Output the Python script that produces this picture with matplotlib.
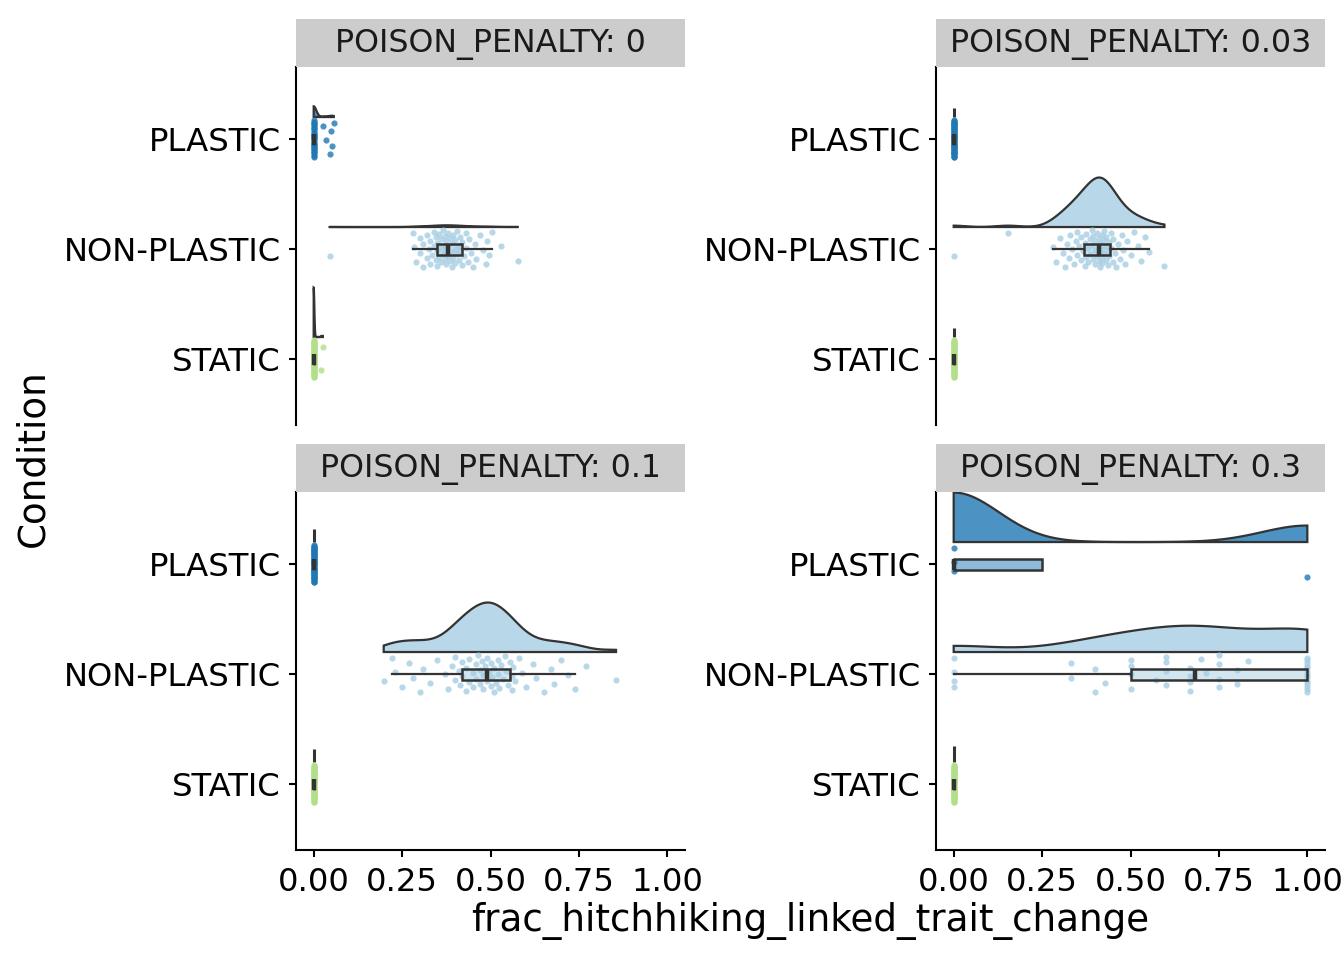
import numpy as np
import matplotlib
matplotlib.use("Agg")
import matplotlib.pyplot as plt
from matplotlib.patches import Rectangle, Polygon

# ---------------- data ----------------
panel_labels = ["POISON_PENALTY: 0", "POISON_PENALTY: 0.03",
                "POISON_PENALTY: 0.1", "POISON_PENALTY: 0.3"]
conditions = ["PLASTIC", "NON-PLASTIC", "STATIC"]
cond_pos = {"PLASTIC": 3, "NON-PLASTIC": 2, "STATIC": 1}
x_ticks = [0.0, 0.25, 0.5, 0.75, 1.0]
x_ticklabels = ["0.00", "0.25", "0.50", "0.75", "1.00"]

# penalty 0
p0_plastic = [0.0] * 30 + [0.026, 0.034, 0.047, 0.050, 0.052, 0.057]
p0_nonplastic = [0.045, 0.28, 0.285, 0.29, 0.30, 0.30, 0.31, 0.31, 0.32, 0.32,
                 0.325, 0.33, 0.33, 0.335, 0.34, 0.34, 0.345, 0.345, 0.35, 0.35,
                 0.35, 0.355, 0.355, 0.36, 0.36, 0.36, 0.365, 0.365, 0.37, 0.37,
                 0.37, 0.375, 0.375, 0.375, 0.38, 0.38, 0.38, 0.385, 0.385, 0.39,
                 0.39, 0.39, 0.395, 0.395, 0.40, 0.40, 0.40, 0.405, 0.405, 0.41,
                 0.41, 0.415, 0.415, 0.42, 0.42, 0.425, 0.43, 0.43, 0.435, 0.44,
                 0.445, 0.45, 0.455, 0.46, 0.47, 0.48, 0.487, 0.49, 0.497, 0.503,
                 0.53, 0.577]
p0_static = [0.0] * 50 + [0.022, 0.026]

# penalty 0.03
p003_plastic = [0.0] * 50
p003_nonplastic = [0.0, 0.154, 0.282, 0.29, 0.30, 0.31, 0.315, 0.32, 0.325, 0.33,
                   0.335, 0.34, 0.345, 0.35, 0.35, 0.355, 0.36, 0.36, 0.365, 0.37,
                   0.37, 0.375, 0.375, 0.38, 0.38, 0.385, 0.385, 0.39, 0.39, 0.395,
                   0.395, 0.40, 0.40, 0.40, 0.405, 0.405, 0.41, 0.41, 0.41, 0.415,
                   0.415, 0.415, 0.42, 0.42, 0.42, 0.42, 0.425, 0.425, 0.425, 0.43,
                   0.43, 0.43, 0.435, 0.435, 0.44, 0.44, 0.445, 0.445, 0.45, 0.45,
                   0.455, 0.46, 0.465, 0.47, 0.475, 0.48, 0.485, 0.49, 0.50, 0.51,
                   0.52, 0.53, 0.54, 0.552, 0.596]
p003_static = [0.0] * 50

# penalty 0.1
p01_plastic = [0.0] * 50
p01_nonplastic = [0.198, 0.222, 0.23, 0.25, 0.27, 0.28, 0.30, 0.31, 0.33, 0.35,
                  0.37, 0.38, 0.39, 0.40, 0.40, 0.41, 0.415, 0.42, 0.42, 0.43,
                  0.43, 0.44, 0.44, 0.45, 0.45, 0.46, 0.46, 0.465, 0.47, 0.47,
                  0.475, 0.48, 0.48, 0.485, 0.49, 0.49, 0.495, 0.50, 0.50, 0.505,
                  0.51, 0.51, 0.515, 0.52, 0.52, 0.525, 0.53, 0.535, 0.54, 0.545,
                  0.55, 0.555, 0.56, 0.56, 0.565, 0.57, 0.58, 0.59, 0.60, 0.62,
                  0.63, 0.65, 0.67, 0.68, 0.70, 0.72, 0.74, 0.77, 0.855]
p01_static = [0.0] * 50

# penalty 0.3
p03_plastic = [0.0, 0.0, 0.0, 1.0]
p03_nonplastic = ([0.0] * 4 + [0.333] * 2 + [0.4] * 2 + [0.429] + [0.5] * 4 +
                  [0.571] + [0.6] * 4 + [0.667] * 4 + [0.7, 0.714] + [0.75] * 4 +
                  [0.8] * 2 + [0.833] + [1.0] * 13)
p03_static = [0.0] * 50

panel_data = [
    {"PLASTIC": p0_plastic, "NON-PLASTIC": p0_nonplastic, "STATIC": p0_static},
    {"PLASTIC": p003_plastic, "NON-PLASTIC": p003_nonplastic, "STATIC": p003_static},
    {"PLASTIC": p01_plastic, "NON-PLASTIC": p01_nonplastic, "STATIC": p01_static},
    {"PLASTIC": p03_plastic, "NON-PLASTIC": p03_nonplastic, "STATIC": p03_static},
]

colors = {"PLASTIC": "#1F78B4", "NON-PLASTIC": "#A6CEE3", "STATIC": "#B2DF8A"}
outline = "#333333"

# ---------------- helpers ----------------
def bw_nrd0(x):
    x = np.asarray(x, float)
    hi = np.std(x, ddof=1)
    q75, q25 = np.percentile(x, [75, 25])
    lo = min(hi, (q75 - q25) / 1.34)
    if lo <= 0:
        lo = hi if hi > 0 else (abs(x[0]) if x[0] != 0 else 1.0)
    return 0.9 * lo * len(x) ** (-0.2)


def kde(x, adjust=1.0):
    x = np.asarray(x, float)
    bw = bw_nrd0(x) * adjust
    grid = np.linspace(x.min(), x.max(), 800)
    d = np.exp(-0.5 * ((grid[:, None] - x[None, :]) / bw) ** 2).sum(1)
    d /= (len(x) * bw * np.sqrt(2 * np.pi))
    return grid, d


W, H = 1344, 960
fig = plt.figure(figsize=(W / 100, H / 100), dpi=100)
plt.rcParams["font.family"] = ["DejaVu Sans"]

panel_px = [(296, 67), (936, 67), (296, 492), (936, 492)]
pw, ph = 389, 358
strip_h = 48

slab_off = 0.2
slab_h = 0.45
box_h = 0.1
spike_len = [0.09, 0.085, 0.12, 0.15]
adjusts = [1.0, 1.5, 1.0, 1.0]

for k, (px, py) in enumerate(panel_px):
    ax = fig.add_axes([px / W, 1 - (py + ph) / H, pw / W, ph / H])
    sax = fig.add_axes([px / W, 1 - py / H, pw / W, strip_h / H])
    sax.set_facecolor("#CCCCCC")
    for s in sax.spines.values():
        s.set_visible(False)
    sax.set_xticks([]); sax.set_yticks([])
    sax.text(0.5, 0.47, panel_labels[k], ha="center", va="center",
             fontsize=22.8, color="#1A1A1A", transform=sax.transAxes)

    data = panel_data[k]
    dens = {}
    for c in conditions:
        v = np.asarray(data[c], float)
        if np.ptp(v) > 0:
            dens[c] = kde(v, adjusts[k])
    dmax = max(d.max() for g, d in dens.values())

    # slabs
    for c in conditions:
        y0 = cond_pos[c] + slab_off
        if c in dens:
            g, d = dens[c]
            top = y0 + d / dmax * slab_h
            xs = np.concatenate([g, g[::-1]])
            ys = np.concatenate([top, np.full_like(g, y0)])
            ax.add_patch(Polygon(np.column_stack([xs, ys]), closed=True,
                                 facecolor=colors[c], alpha=0.8, edgecolor="none", zorder=2))
            ax.add_patch(Polygon(np.column_stack([xs, ys]), closed=True,
                                 facecolor="none", edgecolor=outline, lw=1.6, zorder=3))
        else:
            v0 = data[c][0]
            ax.plot([v0, v0], [y0, y0 + spike_len[k]], color=outline, lw=2.2,
                    solid_capstyle="butt", zorder=3)

    # points
    for c in conditions:
        v = np.asarray(data[c], float)
        n = len(v)
        jit = ((np.arange(n) * 0.6180339887 + 0.31) % 1.0 - 0.5) * 0.34
        ax.scatter(v, cond_pos[c] + jit, s=20, color=colors[c], alpha=0.8,
                   linewidths=0, zorder=4)

    # boxes
    for c in conditions:
        v = np.asarray(data[c], float)
        q1, med, q3 = np.percentile(v, [25, 50, 75])
        iqr = q3 - q1
        inside = v[(v >= q1 - 1.5 * iqr) & (v <= q3 + 1.5 * iqr)]
        lo = min(q1, inside.min())
        hi = max(q3, inside.max())
        yc = cond_pos[c]
        ax.plot([lo, q1], [yc, yc], color=outline, lw=1.6, zorder=5)
        ax.plot([q3, hi], [yc, yc], color=outline, lw=1.6, zorder=5)
        ax.add_patch(Rectangle((q1, yc - box_h / 2), iqr, box_h, facecolor=colors[c],
                               alpha=0.5, edgecolor="none", zorder=5))
        ax.add_patch(Rectangle((q1, yc - box_h / 2), iqr, box_h, facecolor="none",
                               edgecolor=outline, lw=1.8, zorder=6))
        ax.plot([med, med], [yc - box_h / 2, yc + box_h / 2], color=outline,
                lw=3.2, solid_capstyle="butt", zorder=7)

    ax.set_xlim(-0.05, 1.05)
    ax.set_ylim(0.4, 3.655)
    ax.set_yticks([cond_pos[c] for c in conditions])
    ax.set_yticklabels(conditions)
    for s in ["top", "right"]:
        ax.spines[s].set_visible(False)
    ax.spines["left"].set_linewidth(1.5)
    ax.tick_params(axis="y", length=5, width=1.5, labelsize=23.2, pad=6,
                   labelcolor="black")
    if k >= 2:
        ax.spines["bottom"].set_linewidth(1.5)
        ax.set_xticks(x_ticks)
        ax.set_xticklabels(x_ticklabels)
        ax.tick_params(axis="x", length=5, width=1.5, labelsize=23.2, pad=7,
                       labelcolor="black")
    else:
        ax.spines["bottom"].set_visible(False)
        ax.set_xticks([])

fig.text(810.5 / W, 1 - 921 / H, "frac_hitchhiking_linked_trait_change",
         ha="center", va="center", fontsize=26.8)
fig.text(33 / W, 1 - 458 / H, "Condition", ha="center", va="center",
         rotation=90, fontsize=26.8)

fig.savefig("out.png", dpi=100, facecolor="white")
